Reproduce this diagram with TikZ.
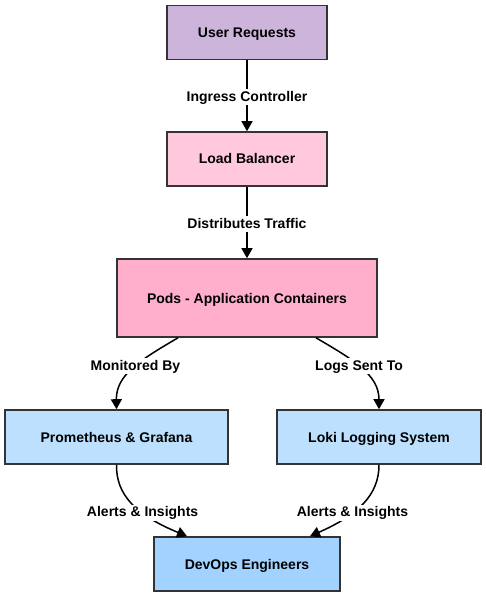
\documentclass[tikz,border=0pt]{standalone}
\usepackage{fontspec}
\setmainfont{Liberation Sans}
\usetikzlibrary{arrows.meta}
\definecolor{usr}{HTML}{CDB4DB}
\definecolor{lb}{HTML}{FFC8DD}
\definecolor{pod}{HTML}{FFAFCC}
\definecolor{mon}{HTML}{BDE0FE}
\definecolor{ops}{HTML}{A2D2FF}
\definecolor{edge}{HTML}{333333}
\tikzset{
  box/.style={draw=edge, line width=1.6pt, inner sep=0pt, minimum height=54pt,
    text height=10pt, text depth=0pt, font=\fontsize{14}{16}\selectfont\bfseries},
  flow/.style={-{Triangle[length=10pt,width=11pt]}, line width=1.5pt, black},
  lbl/.style={fill=white, inner sep=2pt, text height=10pt, text depth=2pt,
    font=\fontsize{14}{16}\selectfont\bfseries}
}

\begin{document}
\begin{tikzpicture}[x=1pt,y=-1pt]
    \useasboundingbox (0,0) rectangle (485,596);
    \fill [white] (0,0) rectangle (485,596);
    % boxes
    \node[box, fill=usr, minimum width=160pt] (user) at (247,32.5) {User Requests};
    \node[box, fill=lb, minimum width=160pt] (lbal) at (247,159) {Load Balancer};
    \node[box, fill=pod, minimum width=260pt, minimum height=78pt] (pods) at (247,298) {Pods - Application Containers};
    \node[box, fill=mon, minimum width=223pt] (prom) at (116.5,437) {Prometheus \& Grafana};
    \node[box, fill=mon, minimum width=204pt] (loki) at (379,437) {Loki Logging System};
    \node[box, fill=ops, minimum width=186pt] (devops) at (247,564) {DevOps Engineers};
    % links
    \draw[flow] (user) -- node[lbl, yshift=-1.5pt] {Ingress Controller} (lbal);
    \draw[flow] (lbal) -- node[lbl, yshift=-1.5pt] {Distributes Traffic} (pods);
    \draw[flow] ([xshift=-69pt]pods.south) .. controls (140,360) and (116,375) .. node[lbl, pos=0.46] {Monitored By} (prom.north);
    \draw[flow] ([xshift=69pt]pods.south) .. controls (354,360) and (379,375) .. node[lbl, pos=0.46] {Logs Sent To} (loki.north);
    \draw[flow] (prom.south) .. controls (116,495) and (136,515) .. node[lbl, pos=0.63] {Alerts \& Insights} ([xshift=-60pt]devops.north);
    \draw[flow] (loki.south) .. controls (379,495) and (358,515) .. node[lbl, pos=0.63] {Alerts \& Insights} ([xshift=63pt]devops.north);
  \end{tikzpicture}
\end{document}
